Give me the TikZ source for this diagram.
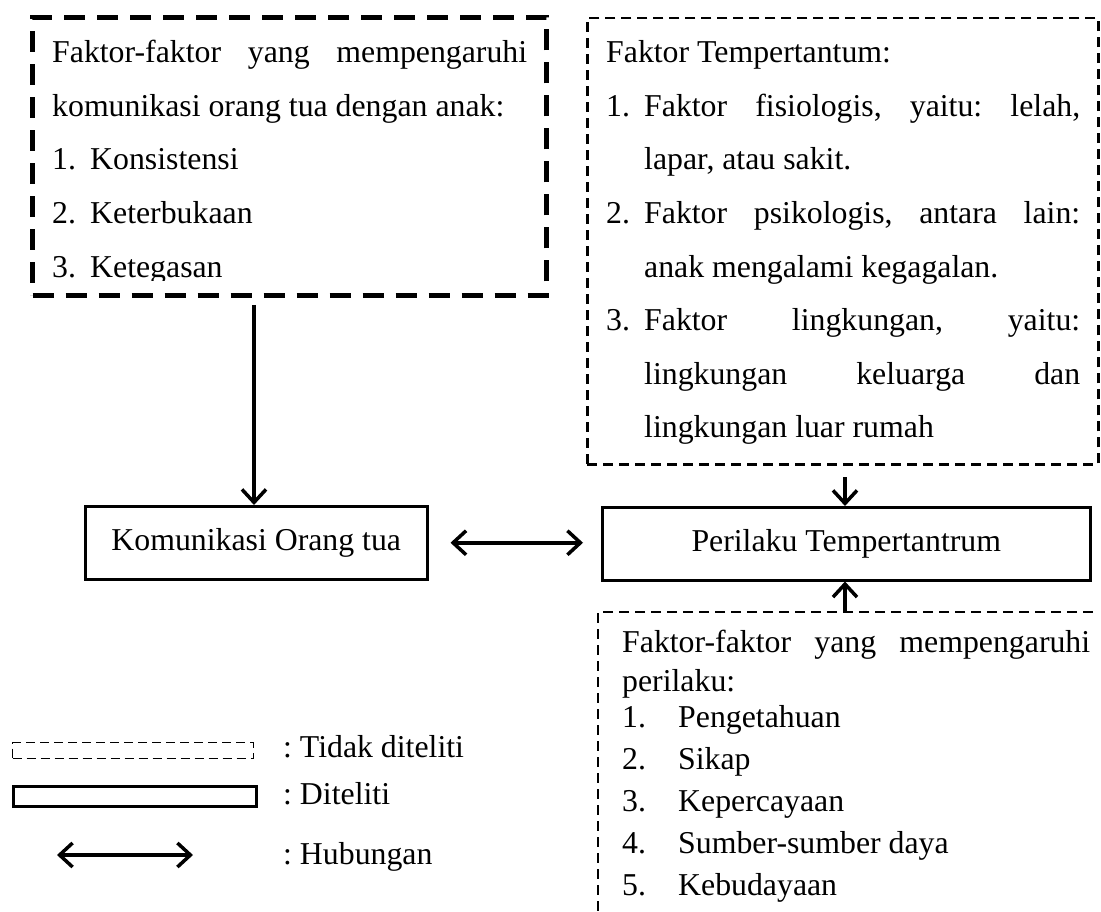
\documentclass[tikz,border=0pt]{standalone}
\usepackage{fontspec}
\setmainfont{Liberation Serif}
\usetikzlibrary{arrows.meta}
\newcommand{\jl}[2]{\makebox[#1pt][s]{#2}}
\frenchspacing
\begin{document}
\begin{tikzpicture}[x=1pt,y=-1pt,
  txt/.style={anchor=base west, inner sep=0pt, font=\fontsize{31.8}{38}\selectfont\frenchspacing},
  ctxt/.style={inner sep=0pt, font=\fontsize{31.8}{38}\selectfont},
  thickdash/.style={draw, line width=5pt, dash pattern=on 21pt off 12pt},
  thindash/.style={draw, line width=2.5pt, dash pattern=on 10pt off 6pt},
  legdash/.style={draw, line width=1.3pt, dash pattern=on 9pt off 5pt},
  solidbox/.style={draw, line width=2.5pt, inner sep=0pt},
  barb/.tip={Straight Barb[length=13pt,width=24pt,line width=3.5pt]},
  arr/.style={line width=3.5pt, -barb},
  darr/.style={line width=3.5pt, barb-barb},
]
\useasboundingbox (0,0) rectangle (1101,912);
\clip (0,0) rectangle (1101,912);

% ---------- top-left box ----------
\node[thickdash, anchor=north west, minimum width=514pt, minimum height=278pt, inner sep=0pt] (b1) at (30,15) {};
\begin{scope}
\clip (33,18) rectangle (541,281);
\node[txt] (b1l1) at (52,63) {\jl{475}{Faktor-faktor yang mempengaruhi}};
\node[txt] (b1l2) at (52,116.5) {komunikasi orang tua dengan anak:};
\node[txt] (b1n1) at (52,170) {1.};
\node[txt] (b1i1) at (90,170) {Konsistensi};
\node[txt] (b1n2) at (52,223.5) {2.};
\node[txt] (b1i2) at (90,223.5) {Keterbukaan};
\node[txt] (b1n3) at (52,277) {3.};
\node[txt] (b1i3) at (90,277) {Ketegasan};
\end{scope}

% ---------- top-right box ----------
\node[thindash, anchor=north west, minimum width=511pt, minimum height=446pt, inner sep=0pt] (b2) at (586,17) {};
\node[txt] (b2l0) at (606,63) {Faktor Tempertantum:};
\node[txt] (b2n1) at (606,116.5) {1.};
\node[txt] (b2l1) at (644,116.5) {\jl{436}{Faktor fisiologis, yaitu: lelah,}};
\node[txt] (b2l2) at (644,170) {lapar, atau sakit.};
\node[txt] (b2n2) at (606,223.5) {2.};
\node[txt] (b2l3) at (644,223.5) {\jl{436}{Faktor psikologis, antara lain:}};
\node[txt] (b2l4) at (644,277) {anak mengalami kegagalan.};
\node[txt] (b2n3) at (606,330.5) {3.};
\node[txt] (b2l5) at (644,330.5) {\jl{436}{Faktor lingkungan, yaitu:}};
\node[txt] (b2l6) at (644,384) {\jl{436}{lingkungan keluarga dan}};
\node[txt] (b2l7) at (644,437.5) {lingkungan luar rumah};

% ---------- middle boxes ----------
\node[solidbox, anchor=north west, minimum width=342pt, minimum height=73pt] (kom) at (84,505) {};
\node[ctxt] (komt) at (kom.center) {Komunikasi Orang tua};
\node[solidbox, anchor=north west, minimum width=488pt, minimum height=73pt] (per) at (601,506) {};
\node[ctxt] (pert) at (per.center) {Perilaku Tempertantrum};

% ---------- bottom-right box ----------
\coordinate (b3tr) at (1093,612);
\coordinate (b3tl) at (598,612);
\coordinate (b3bl) at (598,930);
\draw[thindash, line width=2pt] (b3tr) -- (b3tl) -- (b3bl);
\node[txt] (b3l1) at (622,652) {\jl{468}{Faktor-faktor yang mempengaruhi}};
\node[txt] (b3l2) at (622,691) {perilaku:};
\node[txt] (b3n1) at (622,727) {1.};
\node[txt] (b3i1) at (678,727) {Pengetahuan};
\node[txt] (b3n2) at (622,769) {2.};
\node[txt] (b3i2) at (678,769) {Sikap};
\node[txt] (b3n3) at (622,811) {3.};
\node[txt] (b3i3) at (678,811) {Kepercayaan};
\node[txt] (b3n4) at (622,853) {4.};
\node[txt] (b3i4) at (678,853) {Sumber-sumber daya};
\node[txt] (b3n5) at (622,895) {5.};
\node[txt] (b3i5) at (678,895) {Kebudayaan};

% ---------- connectors ----------
\coordinate (a1s) at (254,305);
\draw[arr] (a1s) -- (a1s |- kom.north);
\coordinate (a2s) at (845,477);
\draw[arr] (a2s) -- (a2s |- per.north);
\coordinate (a3s) at (845,612);
\draw[arr] (a3s) -- (a3s |- per.south);
\coordinate (da1) at ([xshift=22pt]kom.east);
\coordinate (da2) at ([xshift=-18pt]da1 -| per.west);
\draw[darr] (da1) -- (da2);

% ---------- legend ----------
\node[legdash, anchor=north west, minimum width=241pt, minimum height=16pt, inner sep=0pt] (ldash) at (12,742) {};
\node[txt] (ldasht) at (283,757) {: Tidak diteliti};
\node[solidbox, anchor=north west, minimum width=243pt, minimum height=20pt] (lsol) at (12,785) {};
\node[txt] (lsolt) at (283,804) {: Diteliti};
\coordinate (la1) at (57,855);
\coordinate (la2) at (193,855);
\draw[darr] (la1) -- (la2);
\node[txt] (larrt) at (283,864) {: Hubungan};
\end{tikzpicture}
\end{document}
